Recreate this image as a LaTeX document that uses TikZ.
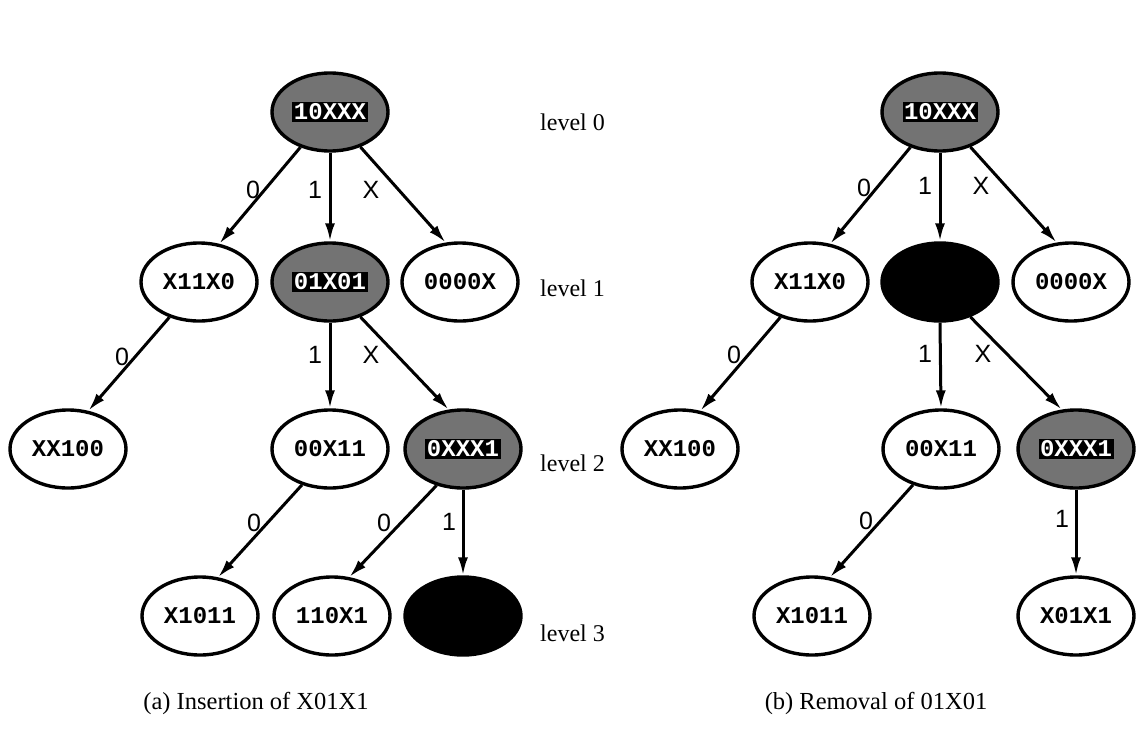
\documentclass[tikz,border=0pt]{standalone}
\usepackage{fontspec}
\setmainfont{Liberation Serif}
\newfontfamily\codefont{Liberation Mono}
\newfontfamily\edgefont{Liberation Sans}
\usetikzlibrary{shapes.geometric,arrows.meta}

% key text shown white on a black band inside the shaded states
\newcommand{\inv}[1]{{\setlength{\fboxsep}{1.5pt}\colorbox{black}{\textcolor{white}{#1}}}}

\tikzset{
  state/.style={ellipse, draw, line width=3.4pt, minimum width=116pt,
    minimum height=78pt, inner sep=0pt,
    font=\codefont\bfseries\fontsize{24}{28}\selectfont},
  marked/.style={state, fill=black!55},
  gone/.style={state, fill=black},
  edge/.style={line width=3pt, -{Latex[length=18pt,width=10pt]}},
  elabel/.style={font=\edgefont\fontsize{25}{29}\selectfont, inner sep=0pt},
  lvl/.style={font=\fontsize{24}{28}\selectfont, anchor=west, inner sep=0pt},
  caption/.style={font=\fontsize{24.5}{29}\selectfont, inner sep=0pt},
}

\begin{document}
\begin{tikzpicture}[x=1pt, y=-1pt]
\useasboundingbox (0,0) rectangle (1136,731);

% ---------- (a) insertion ----------
\node[marked] (a0) at (330,112) {\inv{10XXX}};
\node[state]  (a1) at (199,282) {X11X0};
\node[marked] (a2) at (330,282) {\inv{01X01}};
\node[state]  (a3) at (460,282) {0000X};
\node[state]  (a4) at (68,449)  {XX100};
\node[state]  (a5) at (330,449) {00X11};
\node[marked] (a6) at (463,449) {\inv{0XXX1}};
\node[state]  (a7) at (200,616) {X1011};
\node[state]  (a8) at (332,616) {110X1};
\node[gone]   (a9) at (463,616) {};

\draw[edge] (a0.230) -- (a1.62);
\draw[edge] (a0.south) -- (a2.north);
\draw[edge] (a0.311) -- (a3.110);
\draw[edge] (a1.230) -- (a4.62);
\draw[edge] (a2.south) -- (a5.north);
\draw[edge] (a2.311) -- (a6.110);
\draw[edge] (a5.232) -- (a7.65);
\draw[edge] (a6.234) -- (a8.66);
\draw[edge] (a6.south) -- (a9.north);

\node[elabel] (la1) at (253,190) {0};
\node[elabel] (la2) at (315,190) {1};
\node[elabel] (la3) at (371,190) {X};
\node[elabel] (la4) at (122,357) {0};
\node[elabel] (la5) at (315,355) {1};
\node[elabel] (la6) at (371,355) {X};
\node[elabel] (la7) at (254,523) {0};
\node[elabel] (la8) at (384,523) {0};
\node[elabel] (la9) at (449,522) {1};

\node[lvl] (lv0) at (540,122) {level 0};
\node[lvl] (lv1) at (540,288) {level 1};
\node[lvl] (lv2) at (540,463) {level 2};
\node[lvl] (lv3) at (540,633) {level 3};

\node[caption] (capa) at (256,703) {(a) Insertion of X01X1};

% ---------- (b) removal ----------
\node[marked] (b0) at (940,112)  {\inv{10XXX}};
\node[state]  (b1) at (810,282)  {X11X0};
\node[gone]   (b2) at (940,282)  {};
\node[state]  (b3) at (1071,282) {0000X};
\node[state]  (b4) at (680,449)  {XX100};
\node[state]  (b5) at (941,449)  {00X11};
\node[marked] (b6) at (1076,449) {\inv{0XXX1}};
\node[state]  (b7) at (812,616)  {X1011};
\node[state]  (b8) at (1076,616) {X01X1};

\draw[edge] (b0.230) -- (b1.62);
\draw[edge] (b0.south) -- (b2.north);
\draw[edge] (b0.311) -- (b3.110);
\draw[edge] (b1.230) -- (b4.62);
\draw[edge] (b2.south) -- (b5.north);
\draw[edge] (b2.311) -- (b6.110);
\draw[edge] (b5.232) -- (b7.65);
\draw[edge] (b6.south) -- (b8.north);

\node[elabel] (lb1) at (864,188) {0};
\node[elabel] (lb2) at (925,186) {1};
\node[elabel] (lb3) at (981,186) {X};
\node[elabel] (lb4) at (734,355) {0};
\node[elabel] (lb5) at (925,354) {1};
\node[elabel] (lb6) at (983,354) {X};
\node[elabel] (lb7) at (866,521) {0};
\node[elabel] (lb8) at (1062,519) {1};

\node[caption] (capb) at (876,703) {(b) Removal of 01X01};
\end{tikzpicture}
\end{document}
